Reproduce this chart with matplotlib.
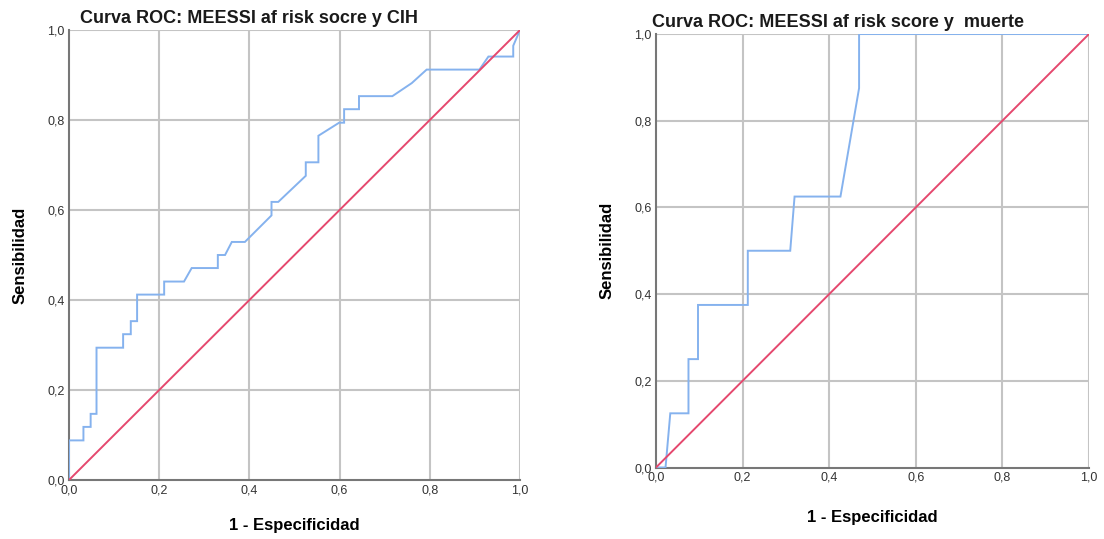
import matplotlib
matplotlib.use("Agg")
import matplotlib.pyplot as plt
from matplotlib.ticker import FuncFormatter

plt.rcParams['font.family'] = ['Liberation Sans', 'DejaVu Sans']

# Left chart: MEESSI af risk score vs CIH
left_title = "Curva ROC: MEESSI af risk socre y CIH"
left_fpr = [0.0, 0.0, 0.032, 0.032, 0.048, 0.048, 0.061, 0.061, 0.120, 0.120,
            0.137, 0.137, 0.151, 0.151, 0.211, 0.211, 0.255, 0.272, 0.330, 0.330,
            0.346, 0.361, 0.390, 0.449, 0.449, 0.464, 0.525, 0.525, 0.553, 0.553,
            0.599, 0.610, 0.610, 0.643, 0.643, 0.717, 0.760, 0.793, 0.910, 0.930,
            0.985, 0.985, 1.0]
left_tpr = [0.0, 0.088, 0.088, 0.118, 0.118, 0.147, 0.147, 0.294, 0.294, 0.324,
            0.324, 0.353, 0.353, 0.412, 0.412, 0.441, 0.441, 0.471, 0.471, 0.500,
            0.500, 0.529, 0.529, 0.588, 0.618, 0.618, 0.676, 0.706, 0.706, 0.765,
            0.794, 0.794, 0.824, 0.824, 0.853, 0.853, 0.882, 0.912, 0.912, 0.941,
            0.941, 0.965, 1.0]

# Right chart: MEESSI af risk score vs muerte
right_title = "Curva ROC: MEESSI af risk score y  muerte"
right_fpr = [0.0, 0.022, 0.033, 0.075, 0.075, 0.097, 0.097, 0.212, 0.212, 0.310,
             0.320, 0.426, 0.469, 0.469, 1.0]
right_tpr = [0.0, 0.0, 0.125, 0.125, 0.25, 0.25, 0.375, 0.375, 0.5, 0.5,
             0.625, 0.625, 0.875, 1.0, 1.0]

diag = [0.0, 1.0]
ticks = [0.0, 0.2, 0.4, 0.6, 0.8, 1.0]

BLUE = '#85b2ee'
RED = '#e5486e'
GRID = '#c4c4c4'

fig = plt.figure(figsize=(11.04, 5.39), dpi=100)

fmt = FuncFormatter(lambda v, p: f"{v:.1f}".replace('.', ','))


def draw(ax, fpr, tpr, title, title_x, title_base, xpad):
    ax.plot(fpr, tpr, color=BLUE, lw=1.4, solid_joinstyle='miter', zorder=3)
    ax.plot(diag, diag, color=RED, lw=1.4, zorder=4)
    ax.set_xlim(0, 1)
    ax.set_ylim(0, 1)
    ax.set_xticks(ticks)
    ax.set_yticks(ticks)
    ax.xaxis.set_major_formatter(fmt)
    ax.yaxis.set_major_formatter(fmt)
    ax.tick_params(length=0, labelsize=9, colors='#333333', pad=3)
    for t in ticks[1:]:
        ax.axvline(t, color=GRID, lw=1.5, zorder=1)
        ax.axhline(t, color=GRID, lw=1.5, zorder=1)
    for s in ['top', 'right']:
        ax.spines[s].set_visible(False)
    for s in ['left', 'bottom']:
        ax.spines[s].set_color('#777777')
        ax.spines[s].set_linewidth(1.5)
    ax.set_xlabel("1 - Especificidad", fontsize=12, fontweight='bold', labelpad=xpad)
    ax.set_ylabel("Sensibilidad", fontsize=12, fontweight='bold', labelpad=14)
    fig.text(title_x, 1 - title_base / 539, title, fontsize=13, fontweight='bold',
             ha='left', va='baseline', color='#1a1a1a')


ax1 = fig.add_axes([69 / 1104, 59 / 539, 451 / 1104, 450 / 539])
draw(ax1, left_fpr, left_tpr, left_title, 80 / 1104, 23, 16)

ax2 = fig.add_axes([656 / 1104, 71.5 / 539, 433 / 1104, 433.5 / 539])
draw(ax2, right_fpr, right_tpr, right_title, 652 / 1104, 27, 19)

fig.savefig("out.png", dpi=100)
